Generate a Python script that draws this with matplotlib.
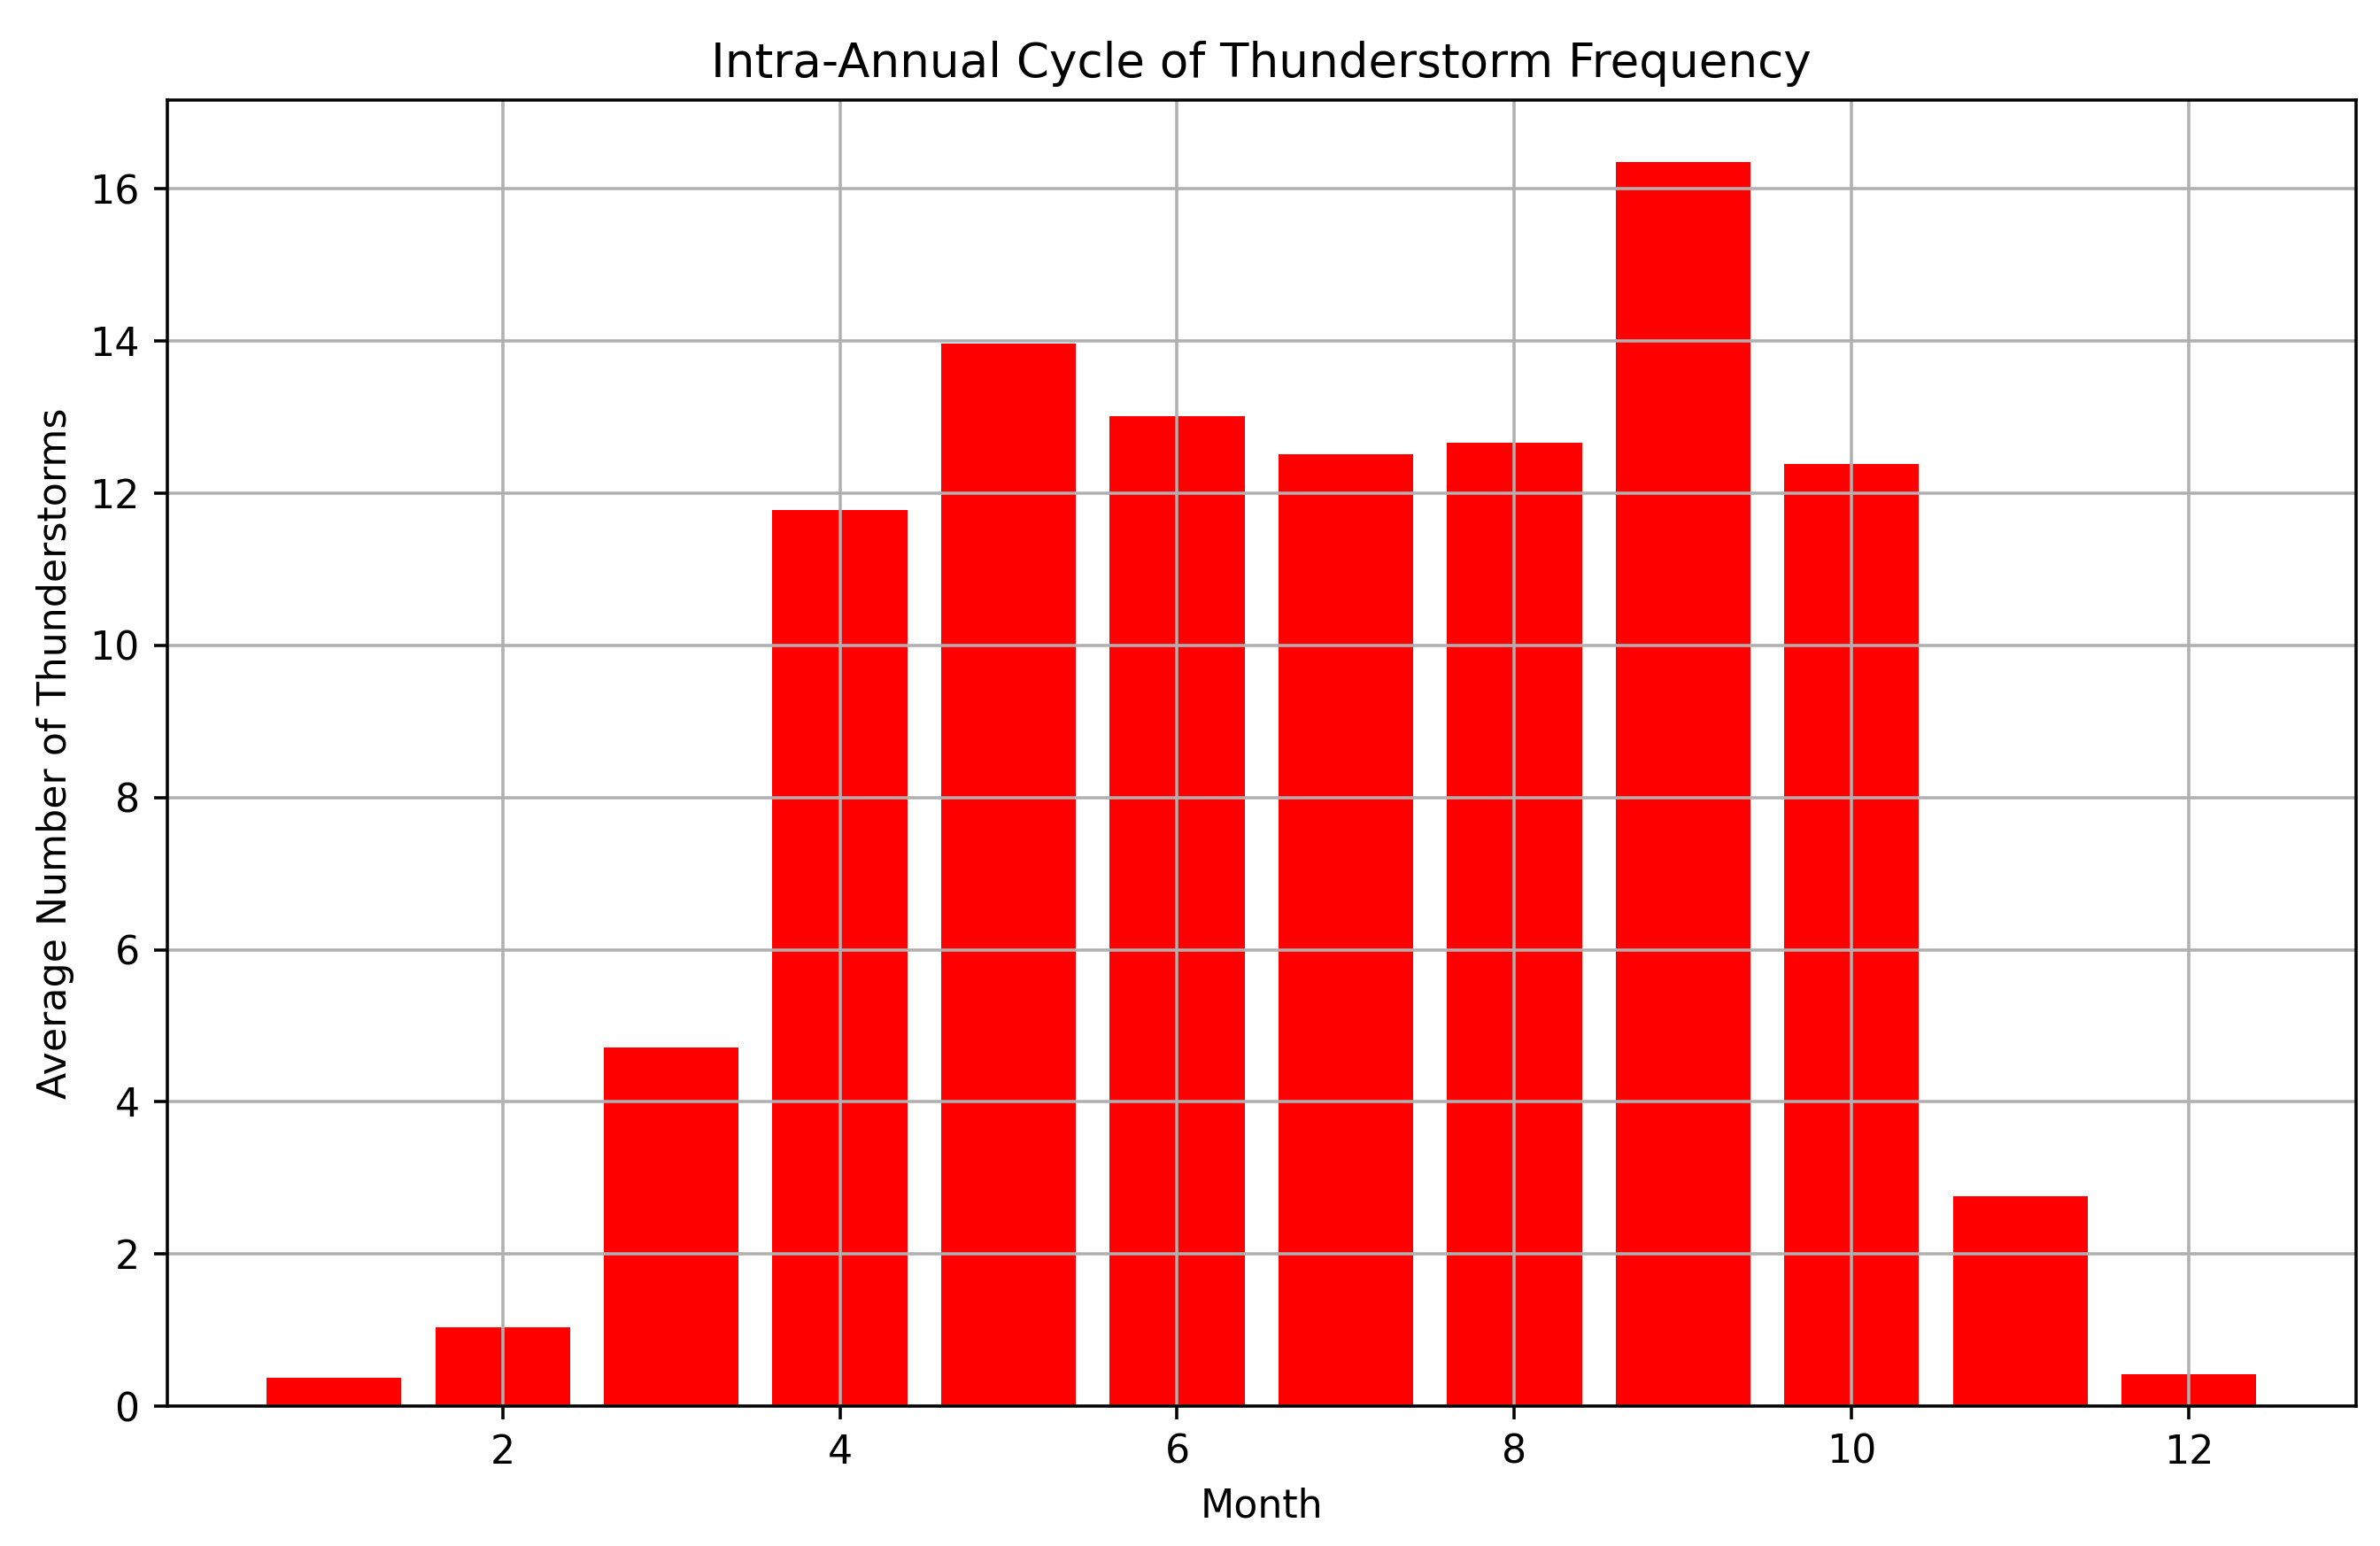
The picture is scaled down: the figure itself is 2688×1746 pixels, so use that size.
import matplotlib
matplotlib.use('Agg')
import matplotlib.pyplot as plt

months = [1, 2, 3, 4, 5, 6, 7, 8, 9, 10, 11, 12]
avg_storms = [0.37, 1.04, 4.71, 11.78, 13.97, 13.01, 12.51, 12.67, 16.35, 12.38, 2.76, 0.42]

fig, ax = plt.subplots(figsize=(8.44, 5.482), dpi=318.5)
ax.bar(months, avg_storms, color='red')
ax.set_xlabel('Month')
ax.set_ylabel('Average Number of Thunderstorms')
ax.set_title('Intra-Annual Cycle of Thunderstorm Frequency')
ax.grid(True)
plt.subplots_adjust(left=0.0702, right=0.9898, top=0.9352, bottom=0.0905)
plt.savefig('out.png')
